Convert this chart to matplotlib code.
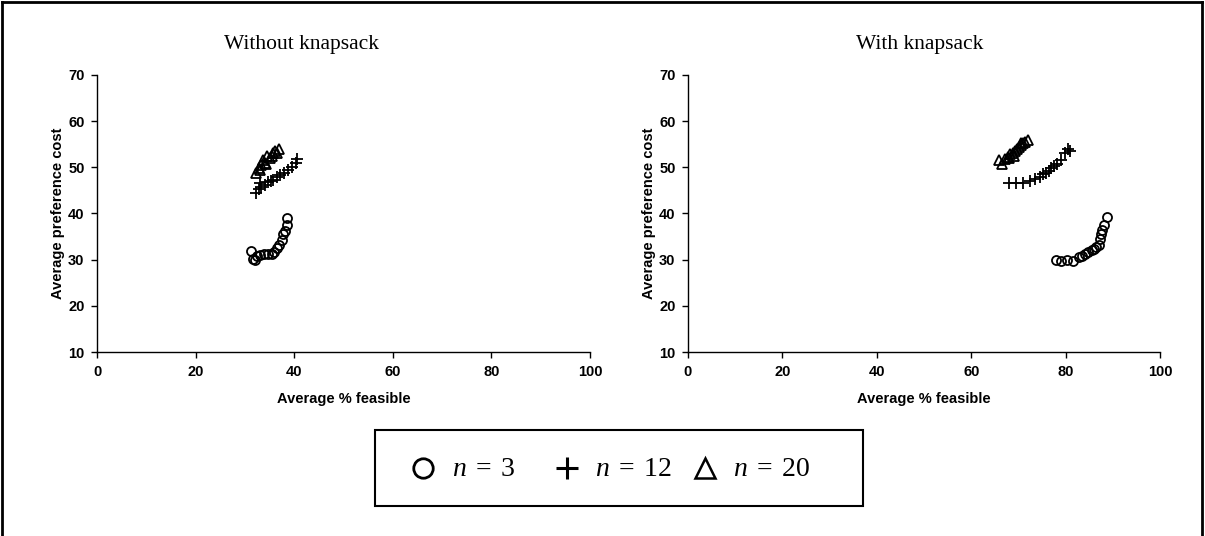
import matplotlib
matplotlib.use("Agg")
import matplotlib.pyplot as plt
from matplotlib.lines import Line2D
from matplotlib.patches import Rectangle

plt.rcParams["mathtext.fontset"] = "custom"
plt.rcParams["mathtext.rm"] = "Liberation Serif"
plt.rcParams["mathtext.it"] = "Liberation Serif:italic"

# ---- data: without knapsack ----
wo_n3_x = [31.3, 31.6, 32.0, 32.4, 33.0, 33.8, 34.6, 35.4, 36.0, 36.5, 37.0, 37.5, 37.8, 38.2, 38.5, 38.6]
wo_n3_y = [31.8, 30.2, 30.0, 30.8, 31.0, 31.2, 31.3, 31.2, 31.6, 32.5, 33.2, 34.2, 35.5, 36.2, 37.5, 39.0]
wo_n12_x = [32.3, 32.8, 33.0, 33.3, 34.0, 34.6, 35.2, 35.8, 36.5, 37.2, 38.0, 38.8, 39.5, 40.3, 40.5]
wo_n12_y = [44.5, 45.2, 46.5, 45.8, 46.2, 46.8, 47.0, 47.3, 47.8, 48.3, 48.8, 49.5, 50.0, 51.0, 51.8]
wo_n20_x = [32.3, 32.8, 33.0, 33.2, 33.6, 34.0, 34.2, 34.5, 35.0, 35.4, 35.8, 36.2, 36.6, 37.0]
wo_n20_y = [48.8, 49.8, 49.5, 50.5, 51.5, 51.0, 50.8, 52.5, 52.0, 52.5, 53.0, 53.5, 53.2, 54.0]

# ---- data: with knapsack ----
w_n3_x = [78.0, 79.0, 80.2, 81.5, 82.8, 83.5, 84.2, 84.8, 85.5, 86.0, 86.5, 87.0, 87.3, 87.5, 87.8, 88.2, 88.8]
w_n3_y = [30.0, 29.8, 29.9, 29.8, 30.5, 30.8, 31.2, 31.6, 32.0, 32.4, 32.8, 33.2, 34.5, 35.5, 36.5, 37.5, 39.2]
w_n12_x = [68.0, 69.5, 71.0, 72.5, 73.5, 74.5, 75.2, 75.8, 76.5, 77.0, 77.5, 78.2, 79.0, 79.8, 80.5, 81.0]
w_n12_y = [46.5, 46.5, 46.6, 47.0, 47.5, 48.0, 48.5, 48.8, 49.3, 49.8, 50.2, 50.8, 51.5, 53.0, 54.0, 53.5]
w_n20_x = [65.8, 66.5, 67.2, 67.8, 68.0, 68.3, 68.8, 69.0, 69.3, 69.8, 70.2, 70.5, 70.6, 71.0, 71.5, 72.0]
w_n20_y = [51.5, 50.8, 51.8, 52.2, 52.0, 52.8, 53.0, 52.5, 53.5, 54.0, 54.5, 55.2, 54.8, 55.3, 55.5, 56.0]

x_ticks = [0, 20, 40, 60, 80, 100]
y_ticks = [10, 20, 30, 40, 50, 60, 70]
titles = ["Without knapsack", "With knapsack"]
legend_labels = [r"$n\;=\;3$", r"$n\;=\;12$", r"$n\;=\;20$"]

W, H = 1205, 536
fig = plt.figure(figsize=(W / 100, H / 100), dpi=100)

panels = [
    (wo_n3_x, wo_n3_y, wo_n12_x, wo_n12_y, wo_n20_x, wo_n20_y),
    (w_n3_x, w_n3_y, w_n12_x, w_n12_y, w_n20_x, w_n20_y),
]
rects = [
    [97 / W, 1 - 352 / H, 493 / W, 277 / H],
    [688 / W, 1 - 352 / H, 472 / W, 277 / H],
]
title_x = [301 / W, 920 / W]

mk = dict(color="black", linestyle="none")
for (ax_rect, data, tx, title) in zip(rects, panels, title_x, titles):
    ax = fig.add_axes(ax_rect)
    n3x, n3y, n12x, n12y, n20x, n20y = data
    ax.plot(n3x, n3y, marker="o", markersize=6.5, markerfacecolor="none",
            markeredgewidth=1.3, **mk)
    ax.plot(n12x, n12y, marker="+", markersize=8, markeredgewidth=1.3, **mk)
    ax.plot(n20x, n20y, marker="^", markersize=7.5, markerfacecolor="none",
            markeredgewidth=1.3, **mk)
    ax.set_xlim(0, 100)
    ax.set_ylim(10, 70)
    ax.set_xticks(x_ticks)
    ax.set_yticks(y_ticks)
    for side in ("top", "right"):
        ax.spines[side].set_visible(False)
    for side in ("left", "bottom"):
        ax.spines[side].set_linewidth(1.0)
    ax.tick_params(direction="out", length=4, width=1.0, labelsize=10.5, pad=5)
    for lab in ax.get_xticklabels() + ax.get_yticklabels():
        lab.set_fontfamily("Liberation Sans")
        lab.set_fontweight("bold")
    ax.set_xlabel("Average % feasible", fontfamily="Liberation Sans",
                  fontweight="bold", fontsize=10.5, labelpad=10)
    ax.set_ylabel("Average preference cost", fontfamily="Liberation Sans",
                  fontweight="bold", fontsize=10.5, labelpad=2)
    fig.text(tx, 1 - 45 / H, title, ha="center", va="center",
             fontfamily="Liberation Serif", fontsize=15.5)

# legend box
fig.patches.append(Rectangle((375 / W, 1 - 506 / H), 488 / W, 76 / H,
                             transform=fig.transFigure, fill=False,
                             edgecolor="black", linewidth=1.5))
ly = 1 - 468 / H
fig.lines.append(Line2D([423 / W], [ly], transform=fig.transFigure, marker="o",
                        markersize=14, markerfacecolor="none",
                        markeredgecolor="black", markeredgewidth=2))
fig.lines.append(Line2D([567 / W], [ly], transform=fig.transFigure, marker="+",
                        markersize=16, markeredgecolor="black",
                        markeredgewidth=2.2))
fig.lines.append(Line2D([705 / W], [ly], transform=fig.transFigure, marker="^",
                        markersize=14, markerfacecolor="none",
                        markeredgecolor="black", markeredgewidth=1.8))
for xpos, lab in zip([452, 595, 733], legend_labels):
    fig.text(xpos / W, ly, lab, ha="left", va="center", fontsize=20)

# outer frame (left, top, right)
frame_kw = dict(transform=fig.transFigure, color="black", linewidth=2)
fig.lines.append(Line2D([2 / W, 2 / W], [0, 1 - 2 / H], **frame_kw))
fig.lines.append(Line2D([2 / W, 1 - 3 / W], [1 - 2 / H, 1 - 2 / H], **frame_kw))
fig.lines.append(Line2D([1 - 3 / W, 1 - 3 / W], [1 - 2 / H, 0], **frame_kw))

fig.savefig("out.png", dpi=100)
